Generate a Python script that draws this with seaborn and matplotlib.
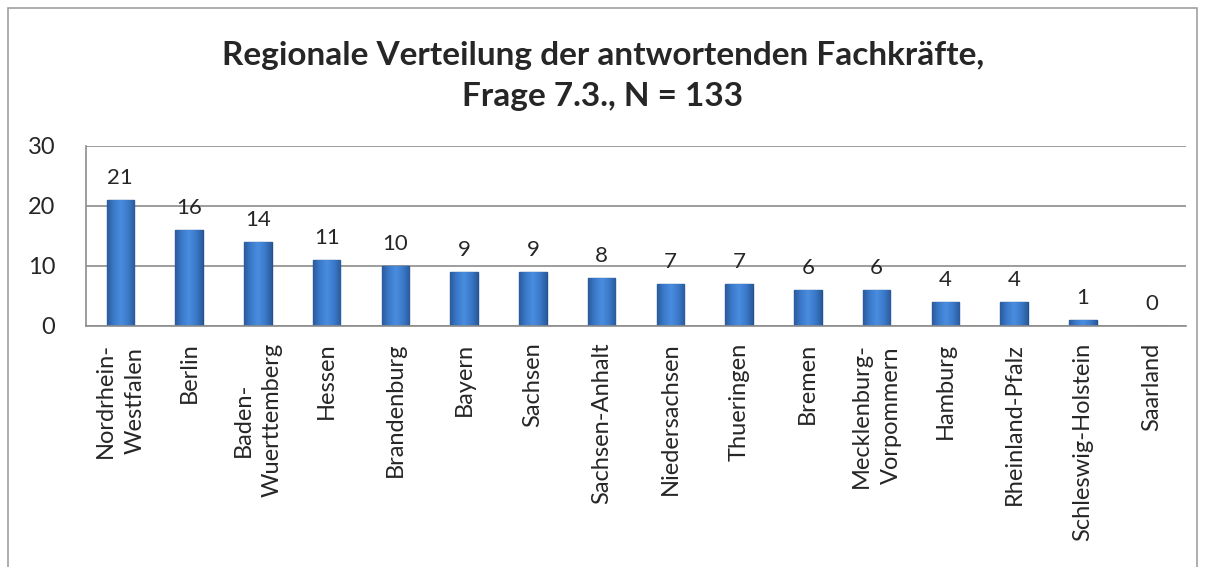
import numpy as np
import pandas as pd
import seaborn as sns
import matplotlib.pyplot as plt
from matplotlib.patches import Rectangle
from matplotlib.colors import LinearSegmentedColormap

# data
laender = ["Nordrhein-\nWestfalen", "Berlin", "Baden-\nWuerttemberg", "Hessen",
           "Brandenburg", "Bayern", "Sachsen", "Sachsen-Anhalt", "Niedersachsen",
           "Thueringen", "Bremen", "Mecklenburg-\nVorpommern", "Hamburg",
           "Rheinland-Pfalz", "Schleswig-Holstein", "Saarland"]
anzahl = [21, 16, 14, 11, 10, 9, 9, 8, 7, 7, 6, 6, 4, 4, 1, 0]
yticks = [0, 10, 20, 30]

df = pd.DataFrame({"land": laender, "n": anzahl})

sns.set_style("white")
plt.rcParams["font.family"] = ["Lato", "DejaVu Sans"]

fig = plt.figure(figsize=(12.06, 5.67), dpi=100)
ax = fig.add_axes([86 / 1206, 1 - 326 / 567, 1100 / 1206, 180 / 567])

sns.barplot(data=df, x="land", y="n", color="#3b76c4", width=0.4,
            edgecolor="#24528f", linewidth=1.0, saturation=1, ax=ax)

# shaded look on the bars (horizontal gradient clipped to each bar)
cmap = LinearSegmentedColormap.from_list(
    "bar", ["#2a5b9c", "#3c7bcc", "#4a8cde", "#3c7bcc", "#2a5b9c"])
grad = np.linspace(0, 1, 64).reshape(1, -1)
for bar in ax.patches:
    x0, y0 = bar.get_x(), bar.get_y()
    w, h = bar.get_width(), bar.get_height()
    if h <= 0:
        continue
    im = ax.imshow(grad, cmap=cmap, extent=[x0, x0 + w, y0, y0 + h],
                   aspect="auto", zorder=bar.get_zorder() + 0.1)
    im.set_clip_path(bar)

# value labels
for i, v in enumerate(anzahl):
    ax.annotate(str(v), (i, v), xytext=(0, 9), textcoords="offset points",
                ha="center", va="bottom", fontsize=16)

ax.set_ylim(0, 30)
ax.set_xlim(-0.5, len(laender) - 0.5)
ax.set_yticks(yticks)
ax.yaxis.grid(True, color="#8c8c8c", linewidth=1.2)
ax.set_axisbelow(True)
ax.tick_params(axis="y", labelsize=17, pad=22, length=0)
ax.tick_params(axis="x", labelsize=17, rotation=90, length=0, pad=12)
for lab in ax.get_xticklabels():
    lab.set_ha("center")
    lab.set_va("top")
    lab.set_linespacing(1.5)
ax.set_xlabel("")
ax.set_ylabel("")
for s in ["top", "right"]:
    ax.spines[s].set_visible(False)
for s in ["left", "bottom"]:
    ax.spines[s].set_color("#8c8c8c")
    ax.spines[s].set_linewidth(1.2)

fig.text(0.5, 1 - 55 / 567, "Regionale Verteilung der antwortenden Fachkräfte,",
         ha="center", va="center", fontsize=24, fontweight="bold")
fig.text(0.5, 1 - 97 / 567, "Frage 7.3., N = 133",
         ha="center", va="center", fontsize=24, fontweight="bold")

# chart border
fig.patches.append(Rectangle((8 / 1206, -0.1), 1189 / 1206, 1.1 - 8 / 567,
                             transform=fig.transFigure, fill=False,
                             edgecolor="#a0a0a0", linewidth=1.2))

fig.savefig("out.png", dpi=100)
